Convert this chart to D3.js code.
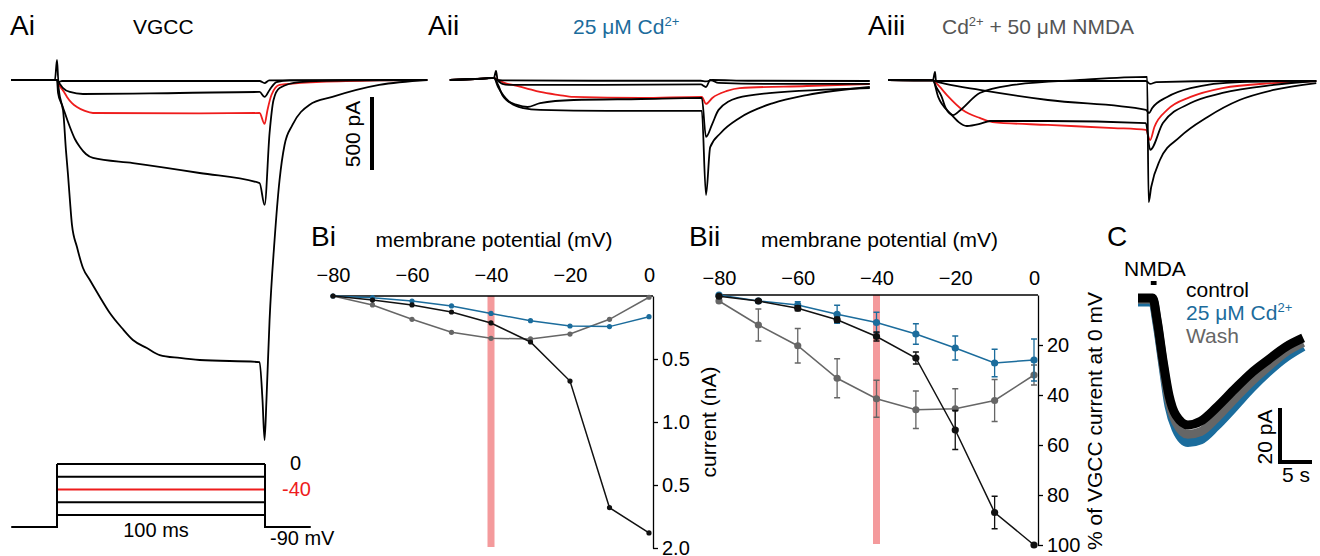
<!DOCTYPE html>
<html>
<head>
<meta charset="utf-8">
<script src="https://cdn.jsdelivr.net/npm/d3@7"></script>
<style>
  body { margin: 0; background: #fff; }
  svg { display: block; font-family: "Liberation Sans", Arial, sans-serif; }
</style>
</head>
<body>
<script>
// ---- colours
const BLUE = "#1b6c9c", GRAY = "#666", RED = "#ee1c1c", BAND = "#f49a9c";

// ---- A: current traces, [time (ms from step onset), current (pA)]
const ai1 = [[-22,0],[-1,0],[0,137],[0.7,-14],[2.4,-7],[97.4,-7],[99.8,-21],[102,-3],[178,0]];
const ai2 = [[-22,0],[0,0],[1.4,-27],[2.9,-55],[6.2,-82],[12.5,-96],[44.6,-92],[97.4,-82],[99.8,-116],[102.2,-68],[105.5,-14],[111.8,-3],[178,0]];
const aiRed = [[-22,0],[0,0],[1.4,-41],[3.4,-82],[4.8,-116],[7.2,-158],[9.6,-185],[13.4,-212],[17.3,-226],[68.6,-229],[97.4,-226],[99.8,-301],[101.2,-205],[103.1,-103],[107,-34],[124.7,-14],[154.9,-3],[178,0]];
const ai4 = [[-22,0],[0,0],[1.4,-116],[3.8,-226],[6.2,-322],[8.6,-404],[11,-459],[13.9,-507],[17.3,-534],[36.5,-569],[68.6,-637],[97.4,-706],[99.8,-856],[102.2,-363],[104.1,-137],[107,-55],[116.5,-14],[140.5,-3],[178,0]];
const ai5 = [[-22,0],[0,0],[0.5,-89],[2.9,-206],[4.3,-480],[5.3,-651],[6.2,-822],[7.2,-993],[9.6,-1144],[12.5,-1288],[15.8,-1370],[20.6,-1486],[25.4,-1596],[31.2,-1699],[36.5,-1781],[43.2,-1836],[49.4,-1884],[59,-1904],[68.6,-1918],[97.4,-1932],[98.8,-2192],[99.8,-2466],[100.7,-2192],[102.2,-1644],[104.6,-1096],[107,-685],[109.4,-445],[113.2,-308],[121.3,-171],[132.4,-116],[154.9,-34],[178,0]];

const aii1 = [[-22,0],[-10,7],[-1,14],[0,62],[0.8,0],[3,-3],[50,-5],[97.5,-5],[100,-10],[103,0],[120,-5],[178,-7]];
const aii2 = [[-22,0],[-10,7],[-1,14],[1,-7],[3,-27],[6,-34],[50,-34],[97.5,-30],[100,-48],[102,0],[106,-20],[130,-27],[178,-27]];
const aiiRed = [[-22,0],[-10,7],[-1,14],[1,0],[4,-20],[8,-34],[14,-55],[21,-82],[30,-103],[37,-116],[69,-123],[98,-116],[100,-164],[103,-123],[110,-75],[116,-55],[148,-41],[178,-27]];
const aii3 = [[-22,0],[-10,7],[-1,14],[1,-34],[3,-103],[5,-137],[10,-171],[15,-185],[21,-158],[37,-137],[69,-130],[98,-123],[100,-390],[103,-300],[106,-205],[115,-123],[130,-90],[178,-55]];
const aii4 = [[-22,0],[-10,7],[-1,14],[1,-48],[7,-158],[13,-192],[21,-205],[53,-212],[98,-212],[100,-788],[102,-460],[107,-363],[116,-260],[132,-158],[148,-103],[178,-48]];

const aiii1 = [[-22,0],[-1,-3],[0,55],[0.5,-7],[2,-7],[99,-7],[101,-27],[104,-14],[140,-7],[179,-7]];
const aiii2 = [[-22,0],[-1,-3],[0.8,-55],[3,-110],[5,-192],[8.5,-240],[12,-205],[21,-89],[36.6,-34],[68,0],[99.6,21],[100.3,-836],[101.5,-733],[105.6,-548],[115,-390],[128,-253],[143,-137],[159,-68],[179,-21]];
const aiii3 = [[-22,0],[-1,-3],[1.5,-14],[5,-27],[21,-68],[53,-137],[99,-205],[100.5,-226],[102,-192],[109,-116],[120,-55],[143,-14],[179,-7]];
const aiii4 = [[-22,0],[-1,-3],[1.5,-116],[7,-226],[15,-315],[21,-301],[25.8,-281],[53,-281],[99,-295],[101,-479],[107,-295],[120,-158],[135,-89],[159,-34],[179,-7]];
const aiiiRed = [[-22,0],[-1,-3],[1.4,-34],[5.6,-103],[13,-205],[21,-260],[27,-288],[53,-308],[84,-329],[99,-342],[101,-411],[103,-322],[109,-205],[120,-116],[135,-55],[159,-21],[179,-7]];

// ---- voltage protocol
const stepLevels = [0, -20, -40, -60, -80];   // mV
const holdingLevel = -90;
const stepTimes = [0, 100];                     // ms
const holdTimes = [-22, 122];

// ---- B: I-V data
const vm = [-80, -70, -60, -50, -40, -30, -20, -10, 0];
const biVgcc = [0, 0.032, 0.071, 0.127, 0.214, 0.365, 0.675, 1.68, 1.88];
const biCd   = [0, 0.013, 0.040, 0.079, 0.138, 0.196, 0.238, 0.243, 0.164];
const biNmda = [0, 0.071, 0.185, 0.288, 0.336, 0.341, 0.302, 0.185, 0.010];
const biTicks = [0.5, 1.0, 1.5, 2.0];
const biTickLabels = ["0.5", "1.0", "0.5", "2.0"];

const biiVgcc = [0.5, 2.4, 5.3, 9.9, 16.6, 25.2, 54, 87, 100];
const biiVgccErr = [0, 0.5, 1, 1, 1.8, 2.4, 7.8, 6.5, 0];
const biiCd = [0, 2.4, 4, 7.7, 11, 15.6, 21.2, 27.2, 26];
const biiCdErr = [0, 0.5, 1.3, 3.6, 4.1, 4.1, 4.8, 5.5, 8.4];
const biiNmda = [2.4, 12, 20.3, 33.3, 41.5, 45.9, 45.5, 42.2, 32];
const biiNmdaErr = [0, 6.4, 6.9, 7.8, 7.4, 7.5, 8, 8.4, 4];
const biiTicks = [20, 40, 60, 80, 100];
const vmTicks = [-80, -60, -40, -20, 0];

// ---- C: NMDA currents, [time (s), current (pA)]
const cControl = [[0,0],[2.3,0],[2.97,-8],[3.9,-23],[4.84,-36],[5.94,-43.5],[7.8,-47],[9.8,-45.6],[12.2,-40.7],[15,-34],[17.7,-27.8],[20.3,-23],[23.1,-18.1],[25.8,-14.8]];
const cWash = [[0,-0.5],[2.3,-0.5],[2.97,-8.5],[3.9,-24],[4.84,-38],[5.94,-46],[7.8,-50.5],[9.8,-49.5],[12.2,-44.5],[15,-37.5],[17.7,-31],[20.3,-25.5],[23.1,-20],[25.8,-16.5]];
const cCd = [[0,-1.5],[2.3,-1.5],[2.97,-9.5],[3.9,-25],[4.84,-40],[5.94,-48.5],[7.8,-53.5],[9.8,-52.5],[12.2,-47.5],[15,-40.5],[17.7,-33.5],[20.3,-27.5],[23.1,-22],[25.8,-18]];
const nmdaPuff = [2.0, 2.9];  // s

const svg = d3.select("body").append("svg")
    .attr("width", 1320)
    .attr("height", 556);

function label(x, y, txt, size, color) {
  return svg.append("text").attr("x", x).attr("y", y)
      .attr("font-size", size).attr("fill", color || "#000").text(txt);
}

// ---------------- A panels ----------------
// red (-40 mV) trace first, black ones on top
const yA = d3.scaleLinear().domain([0, -1000]).range([80, 80 + 1000 / 6.85]);
const panelsA = [
  { range: [57, 265], traces: [aiRed, ai1, ai2, ai4, ai5] },
  { range: [496, 706], traces: [aiiRed, aii1, aii2, aii3, aii4] },
  { range: [935, 1148], traces: [aiiiRed, aiii1, aiii3, aiii4, aiii2] }
];
panelsA.forEach(p => {
  const x = d3.scaleLinear().domain([0, 100]).range(p.range);
  const line = d3.line().x(d => x(d[0])).y(d => yA(d[1])).curve(d3.curveMonotoneX);
  p.traces.forEach((t, i) => {
    svg.append("path").attr("d", line(t)).attr("fill", "none")
        .attr("stroke", i === 0 ? RED : "#000")
        .attr("stroke-width", 1.8).attr("stroke-linejoin", "round");
  });
  p.x = x;
});

// 500 pA scale bar
svg.append("rect").attr("x", 370).attr("y", 97).attr("width", 4)
    .attr("height", yA(-500) - yA(0)).attr("fill", "#000");
svg.append("text").attr("transform", "translate(360,134) rotate(-90)")
    .attr("text-anchor", "middle").attr("font-size", 21).text("500 pA");

// titles
label(10, 35, "Ai", 28);
label(133, 34, "VGCC", 21);
label(428, 35, "Aii", 28);
const t2 = label(573, 34, "25 μM Cd", 21, BLUE);
t2.append("tspan").attr("dy", -8).attr("font-size", 13).text("2+");
label(868, 35, "Aiii", 28);
const t3 = label(942, 34, "Cd", 21, "#555");
t3.append("tspan").attr("dy", -8).attr("font-size", 13).text("2+");
t3.append("tspan").attr("dy", 8).text(" + 50 μM NMDA");

// voltage protocol (uses Ai time scale)
const xP = panelsA[0].x;
const yV = d3.scaleLinear().domain([0, -80, -90]).range([464, 515, 527]);
stepLevels.forEach(v => {
  svg.append("line").attr("x1", xP(stepTimes[0])).attr("x2", xP(stepTimes[1]))
      .attr("y1", yV(v)).attr("y2", yV(v))
      .attr("stroke", v === -40 ? RED : "#000").attr("stroke-width", 2);
});
const hold = d3.line().x(d => xP(d[0])).y(d => yV(d[1]));
svg.append("path").attr("fill", "none").attr("stroke", "#000").attr("stroke-width", 2)
    .attr("d", hold([[holdTimes[0], holdingLevel], [stepTimes[0], holdingLevel], [stepTimes[0], stepLevels[0]]]));
svg.append("path").attr("fill", "none").attr("stroke", "#000").attr("stroke-width", 2)
    .attr("d", hold([[stepTimes[1], stepLevels[0]], [stepTimes[1], holdingLevel], [holdTimes[1], holdingLevel]]));
label(290, 470, "0", 20);
label(282, 496, "-40", 20, RED);
label(156, 537, "100 ms", 20).attr("text-anchor", "middle");
label(270, 545, "-90 mV", 20);

// ---------------- B panels ----------------
function ivPanel(opt) {
  const x = d3.scaleLinear().domain([-80, 0]).range(opt.xr);
  const y = d3.scaleLinear().domain(opt.yd).range(opt.yr);
  const axX = opt.xr[1] + 4;
  const g = svg.append("g");

  g.append("rect").attr("x", x(-40) - 3.5).attr("width", 7)
      .attr("y", opt.yr[0]).attr("height", opt.yr[1] - opt.yr[0] - 1).attr("fill", BAND);

  const top = g.append("g").attr("transform", `translate(0,${opt.yr[0]})`)
      .call(d3.axisTop(x).tickValues(vmTicks).tickSize(0).tickPadding(opt.pad));
  top.select(".domain").remove();
  top.selectAll("text").attr("font-size", 20).attr("font-family", null);
  g.append("line").attr("x1", x(-80)).attr("x2", axX)
      .attr("y1", opt.yr[0]).attr("y2", opt.yr[0]).attr("stroke", "#000").attr("stroke-width", 1.3);

  const right = g.append("g").attr("transform", `translate(${axX},0)`)
      .call(d3.axisRight(y).tickValues(opt.ticks).tickFormat(opt.fmt)
        .tickSize(5).tickSizeOuter(0).tickPadding(4));
  right.selectAll("text").attr("font-size", 20).attr("font-family", null);
  right.selectAll("line, path").attr("stroke-width", 1.3);

  g.append("text").attr("x", (opt.xr[0] + opt.xr[1]) / 2 + 3).attr("y", 247)
      .attr("text-anchor", "middle").attr("font-size", 21).text("membrane potential (mV)");

  const line = d3.line().x((d, i) => x(vm[i])).y(d => y(d));
  opt.series.forEach(s => {
    if (s.err) {
      s.vals.forEach((v, i) => {
        if (!s.err[i]) return;
        const cx = x(vm[i]);
        g.append("path").attr("fill", "none").attr("stroke", s.color).attr("stroke-width", 1.3)
            .attr("d", `M${cx - 3},${y(v - s.err[i])}H${cx + 3}M${cx},${y(v - s.err[i])}V${y(v + s.err[i])}M${cx - 3},${y(v + s.err[i])}H${cx + 3}`);
      });
    }
    g.append("path").attr("d", line(s.vals)).attr("fill", "none")
        .attr("stroke", s.color).attr("stroke-width", 1.5);
    g.selectAll(null).data(s.vals).join("circle")
        .attr("cx", (d, i) => x(vm[i])).attr("cy", d => y(d))
        .attr("r", opt.r).attr("fill", s.color);
  });
}

ivPanel({
  xr: [333, 649], yd: [0, 2], yr: [296, 548], pad: 14, r: 2.6,
  ticks: biTicks, fmt: (d, i) => biTickLabels[i],
  series: [
    { vals: biNmda, color: GRAY },
    { vals: biCd, color: BLUE },
    { vals: biVgcc, color: "#111" }
  ]
});
ivPanel({
  xr: [719, 1034], yd: [0, 100], yr: [295, 545], pad: 10, r: 3.6,
  ticks: biiTicks, fmt: d => d,
  series: [
    { vals: biiNmda, err: biiNmdaErr, color: GRAY },
    { vals: biiCd, err: biiCdErr, color: BLUE },
    { vals: biiVgcc, err: biiVgccErr, color: "#111" }
  ]
});

label(311, 246, "Bi", 28);
label(689, 246, "Bii", 28);
svg.append("text").attr("transform", "translate(716,422) rotate(-90)")
    .attr("text-anchor", "middle").attr("font-size", 21).text("current (nA)");
svg.append("text").attr("transform", "translate(1102,421) rotate(-90)")
    .attr("text-anchor", "middle").attr("font-size", 21).text("% of VGCC current at 0 mV");

// ---------------- C panel ----------------
const xC = d3.scaleLinear().domain([0, 5]).range([1138, 1138 + 32]);
const yC = d3.scaleLinear().domain([0, -20]).range([298, 298 + 54]);
const lineC = d3.line().x(d => xC(d[0])).y(d => yC(d[1])).curve(d3.curveMonotoneX);
[[cCd, BLUE], [cWash, GRAY], [cControl, "#000"]].forEach(([d, c]) => {
  svg.append("path").attr("d", lineC(d)).attr("fill", "none").attr("stroke", c)
      .attr("stroke-width", 9).attr("stroke-linejoin", "round").attr("stroke-linecap", "butt");
});
svg.append("rect").attr("x", xC(nmdaPuff[0])).attr("width", xC(nmdaPuff[1]) - xC(nmdaPuff[0]))
    .attr("y", 281).attr("height", 4).attr("fill", "#000");

// scale bars 20 pA / 5 s
svg.append("path").attr("fill", "none").attr("stroke", "#000").attr("stroke-width", 4)
    .attr("d", `M1280,${462 - (yC(-20) - yC(0))}V462H${1280 + xC(5) - xC(0)}`);
svg.append("text").attr("transform", "translate(1272,437) rotate(-90)")
    .attr("text-anchor", "middle").attr("font-size", 21).text("20 pA");
label(1296, 482, "5 s", 21).attr("text-anchor", "middle");

label(1107, 246, "C", 28);
label(1124, 276, "NMDA", 21);
label(1186, 297, "control", 21);
const tc = label(1186, 320, "25 μM Cd", 21, BLUE);
tc.append("tspan").attr("dy", -8).attr("font-size", 13).text("2+");
label(1186, 343, "Wash", 21, GRAY);
</script>
</body>
</html>
